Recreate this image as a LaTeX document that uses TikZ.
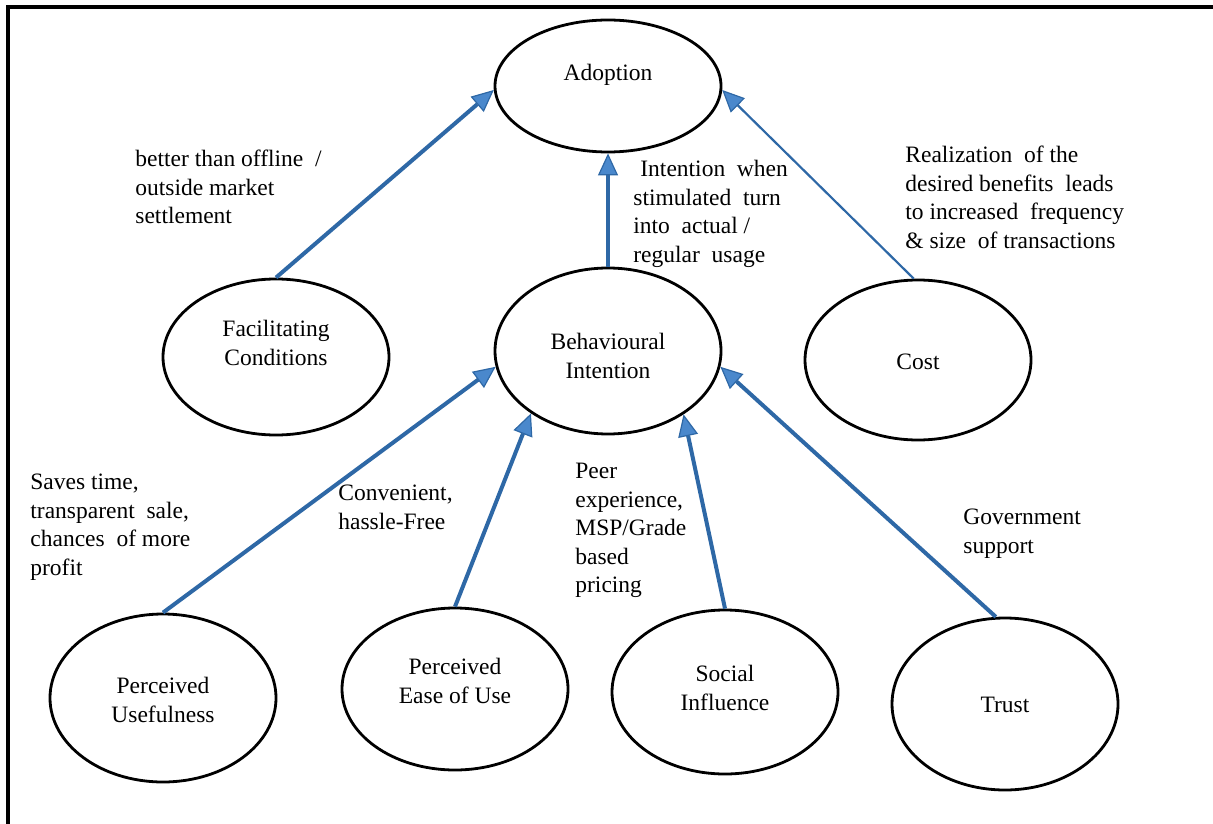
\documentclass[tikz,border=0pt]{standalone}
\usepackage{fontspec}
\newfontfamily\diagfont{Liberation Serif}
\usetikzlibrary{shapes.geometric,arrows.meta}

\definecolor{linkblue}{RGB}{46,104,166}
\definecolor{tipblue}{RGB}{74,136,204}

\tikzset{
  oval/.style={ellipse, draw=black, line width=1.4pt, minimum width=113pt, minimum height=80pt, inner sep=0pt},
  ovaltext/.style={align=center, inner sep=0pt, font=\diagfont\fontsize{11.75}{14.25}\selectfont},
  note/.style={align=left, anchor=north west, inner sep=0pt, font=\diagfont\fontsize{11.75}{14.25}\selectfont},
  link/.style={draw=linkblue, line width=2pt,
    -{Triangle[length=11pt, width=10pt, fill=tipblue, line width=0.6pt]}},
  thinlink/.style={link, line width=1.1pt},
}

\begin{document}
\begin{tikzpicture}[x=0.5pt, y=-0.5pt]
  \useasboundingbox (0,0) rectangle (1213,823);
  \begin{scope}
    \clip (0,0) rectangle (1213,823);
    % outer frame, running off the right and bottom edges
    \draw[line width=1.9pt] (8,7) rectangle (1240,850);
  \end{scope}

  % constructs
  \node[oval, minimum height=66pt] (adopt) at (608,86) {};
  \node[oval, minimum height=78pt] (fc)    at (276,357) {};
  \node[oval, minimum height=83pt] (bi)    at (608,351) {};
  \node[oval, minimum height=80pt] (cost)  at (918,360) {};
  \node[oval, minimum height=84pt] (pu)    at (163,698) {};
  \node[oval, minimum height=81pt] (peu)   at (455,689) {};
  \node[oval, minimum height=82pt] (si)    at (725,692) {};
  \node[oval, minimum height=86pt] (trust) at (1005,704) {};

  % construct names
  \node[ovaltext] (adopt-t) at (608,75)  {Adoption};
  \node[ovaltext] (fc-t)    at (276,343) {Facilitating\\Conditions};
  \node[ovaltext] (bi-t)    at (608,356) {Behavioural\\Intention};
  \node[ovaltext] (cost-t)  at (918,362) {Cost};
  \node[ovaltext] (pu-t)    at (163,700) {Perceived\\Usefulness};
  \node[ovaltext] (peu-t)   at (455,681) {Perceived\\Ease of Use};
  \node[ovaltext] (si-t)    at (725,688) {Social\\Influence};
  \node[ovaltext] (trust-t) at (1005,705) {Trust};

  % relationships
  \draw[link]     (fc.north)   -- (adopt.182);
  \draw[link]     (bi.north)   -- (adopt.south);
  \draw[thinlink] (cost.93)    -- (adopt.358);
  \draw[link]     (pu.north)   -- (bi.188);
  \draw[link]     (peu.north)  -- (bi.219);
  \draw[link]     (si.north)   -- (bi.320);
  \draw[link]     (trust.96)   -- (bi.352);

  % explanations
  \node[note] (n-fc)    at (135,150) {better than offline\ \ /\\outside market\\settlement};
  \node[note] (n-bi)    at (633,160) {\hspace{3.5pt}Intention\ \ when\\stimulated\ \ turn\\into\ \ actual /\\regular\ \ usage};
  \node[note] (n-cost)  at (905,146) {Realization\ \ of the\\desired benefits\ \ leads\\to increased\ \ frequency\\\& size\ \ of transactions};
  \node[note] (n-pu)    at (30,474)  {Saves time,\\transparent\ \ sale,\\chances\ \ of more\\profit};
  \node[note] (n-peu)   at (338,485) {Convenient,\\hassle-Free};
  \node[note] (n-si)    at (575,463) {Peer\\experience,\\MSP/Grade\\based\\pricing};
  \node[note] (n-trust) at (963,509) {Government\\support};
\end{tikzpicture}
\end{document}
